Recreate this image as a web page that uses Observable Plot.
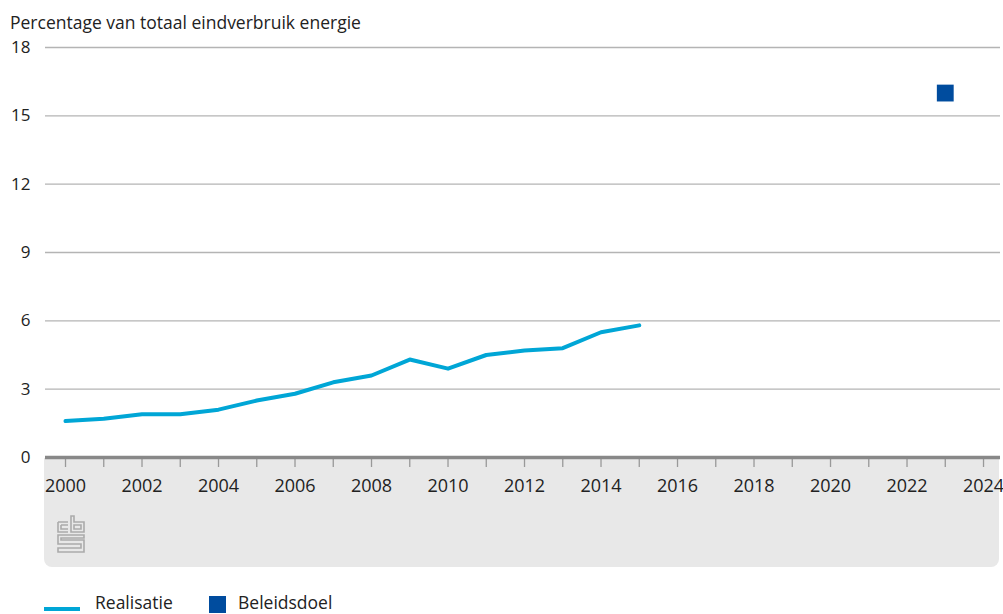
<!DOCTYPE html>
<html>
<head>
<meta charset="utf-8">
<script src="https://cdn.jsdelivr.net/npm/d3@7"></script>
<script src="https://cdn.jsdelivr.net/npm/@observablehq/plot@0.6"></script>
<style>
  html, body { margin: 0; padding: 0; background: #fff; }
  body { width: 1003px; height: 614px; position: relative; overflow: hidden; font-family: "Open Sans", "Noto Sans", sans-serif; color: #222; }
  #title { position: absolute; left: 10px; top: 11px; font-size: 17.5px; line-height: 22px; }
  #band { position: absolute; left: 44px; top: 458px; width: 955px; height: 109px; background: #e8e8e8; border-radius: 0 0 8px 8px; }
  #chart { position: absolute; left: 0; top: 0; }
  #logo { position: absolute; left: 56px; top: 514px; }
  #legend { position: absolute; left: 44px; top: 590px; font-size: 17.5px; line-height: 22px; }
  .item { position: absolute; top: 0; white-space: nowrap; }
</style>
</head>
<body>
<div id="band"></div>
<svg id="logo" width="30" height="40" viewBox="0 0 30 40" fill="none" stroke="#aaa" stroke-width="1.6">
  <path d="M2 8 H12 M2 8 V18 H12 M5 11 H12 M5 11 V15 H12"/>
  <path d="M15 2 V18 H28 V8 H18 V2 Z M18 11 V15 H25 V11 Z"/>
  <path d="M28 21 H2 V30 H25 V34 H2 V38 H28 V26 H5 V24 H28 Z"/>
</svg>
<div id="chart"></div>
<div id="title">Percentage van totaal eindverbruik energie</div>
<div id="legend">
  <div class="item" style="left:0;top:17px;width:36px;height:4px;background:#00a6d6"></div>
  <div class="item" style="left:51px;top:1px">Realisatie</div>
  <div class="item" style="left:165px;top:6px;width:17px;height:17px;background:#004c9e"></div>
  <div class="item" style="left:194px;top:1px">Beleidsdoel</div>
</div>
<script>
const years = [2000,2001,2002,2003,2004,2005,2006,2007,2008,2009,2010,2011,2012,2013,2014,2015];
const realisatie = [1.6,1.7,1.9,1.9,2.1,2.5,2.8,3.3,3.6,4.3,3.9,4.5,4.7,4.8,5.5,5.8];
const doelYear = [2023];
const doelValue = [16];
const yTicks = [0,3,6,9,12,15,18];
const xTicks = d3.range(2000, 2025);

const lineData = years.map((y, i) => ({year: y, value: realisatie[i]}));
const doelData = doelYear.map((y, i) => ({year: y, value: doelValue[i]}));

const chart = Plot.plot({
  width: 1003,
  height: 570,
  marginTop: 47,
  marginBottom: 113,
  marginLeft: 45,
  marginRight: 3,
  style: {fontFamily: '"Open Sans", "Noto Sans", sans-serif', fontSize: "16px", color: "#222", background: "transparent", overflow: "visible"},
  x: {domain: [1999.477, 2024.444]},
  y: {domain: [0, 18]},
  marks: [
    Plot.gridY(yTicks.filter(d => d > 0), {stroke: "#b4b4b4", strokeOpacity: 1, strokeWidth: 1.3}),
    Plot.axisY(yTicks, {tickSize: 0, tickPadding: 15, fontSize: 17, fill: "#222", label: null}),
    Plot.axisX(xTicks, {tickSize: 10, stroke: "#999", strokeWidth: 1.3, tickPadding: 12, fontSize: 18, fill: "#222", label: null,
      tickFormat: d => d % 2 === 0 ? String(d) : ""}),
    Plot.ruleY([0], {stroke: "#888", strokeWidth: 3.5, clip: false}),
    Plot.line(lineData, {x: "year", y: "value", stroke: "#00a6d6", strokeWidth: 4}),
    Plot.dot(doelData, {x: "year", y: "value", symbol: "square", r: 9.5, fill: "#004c9e", stroke: "none"})
  ]
});
document.getElementById("chart").appendChild(chart);
</script>
</body>
</html>
